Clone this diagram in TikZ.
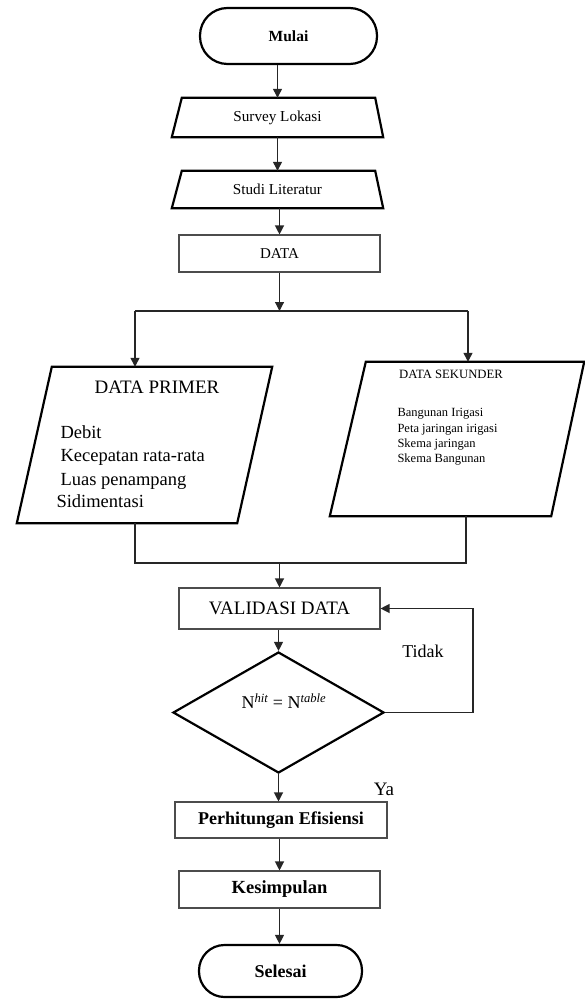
\documentclass[tikz,border=0pt]{standalone}
\usepackage{fontspec}
\setmainfont{Liberation Serif}
\usetikzlibrary{shapes.geometric,arrows.meta}
\newcommand\fsz[1]{\fontsize{#1}{#1}\selectfont}
\begin{document}
\begin{tikzpicture}[x=1pt,y=-1pt,
  thickline/.style={line width=2.2pt, line join=miter},
  conn/.style={line width=1.2pt, draw=black!85},
  arr/.style={conn,-{Triangle[length=9pt,width=9pt]}},
  terminal/.style={draw, line width=2.2pt, rectangle, inner sep=0pt},
  proc/.style={draw=black!70, line width=1.1pt, rectangle, inner sep=0pt},
  box/.style={rectangle, inner sep=0pt}
]
\useasboundingbox (0,0) rectangle (585,1000);

% start
\node[terminal, minimum width=177pt, minimum height=56pt, rounded corners=27.5pt, font=\fsz{15.5}\bfseries] (mulai) at (288.5,36) {Mulai};

% survey
\node[box, minimum width=211pt, minimum height=39pt, font=\fsz{15.2}] (survey) at (277.5,117.5) {Survey Lokasi};
\draw[thickline] ([xshift=10pt]survey.north west) -- ([xshift=-8pt]survey.north east) -- (survey.south east) -- (survey.south west) -- cycle;

% studi
\node[box, minimum width=211pt, minimum height=37pt, font=\fsz{15.2}] (studi) at (277.5,189.5) {Studi Literatur};
\draw[thickline] ([xshift=10pt]studi.north west) -- ([xshift=-8pt]studi.north east) -- (studi.south east) -- (studi.south west) -- cycle;

% data
\node[proc, minimum width=201pt, minimum height=37pt, font=\fsz{15}] (data) at (279.5,253.5) {DATA};

% primer
\node[box, minimum width=255pt, minimum height=156pt] (primer) at (144.5,445) {};
\draw[thickline] ([xshift=35pt]primer.north west) -- (primer.north east) -- ([xshift=-35pt]primer.south east) -- (primer.south west) -- cycle;
\node[font=\fsz{19}, anchor=base] (primtitle) at (157,393) {DATA PRIMER};
\node[font=\fsz{18.5}, anchor=base west] (p1) at (57,438) {Debit};
\node[font=\fsz{18.5}, anchor=base west] (p2) at (57,461) {Kecepatan rata-rata};
\node[font=\fsz{18.5}, anchor=base west] (p3) at (57,485) {Luas penampang};
\node[font=\fsz{18.5}, anchor=base west] (p4) at (53,507) {Sidimentasi};

% sekunder
\node[box, minimum width=254pt, minimum height=154pt] (sekunder) at (457,439) {};
\draw[thickline] ([xshift=36pt]sekunder.north west) -- (sekunder.north east) -- ([xshift=-33pt]sekunder.south east) -- (sekunder.south west) -- cycle;
\node[font=\fsz{12.7}, anchor=base] (sektitle) at (451,378) {DATA SEKUNDER};
\node[font=\fsz{12.5}, anchor=base west] (s1) at (394,416) {Bangunan Irigasi};
\node[font=\fsz{12.5}, anchor=base west] (s2) at (394,432) {Peta jaringan irigasi};
\node[font=\fsz{12.5}, anchor=base west] (s3) at (394,447) {Skema jaringan};
\node[font=\fsz{12.5}, anchor=base west] (s4) at (394,462) {Skema Bangunan};

% validasi
\node[proc, minimum width=201pt, minimum height=41pt, font=\fsz{19}] (validasi) at (279.5,608.5) {VALIDASI DATA};

% decision
\node[draw, diamond, line width=2.2pt, minimum width=211pt, minimum height=121pt, inner sep=0pt] (dec) at (278.5,712.5) {};
\node[font=\fsz{18}] (dectext) at (284,701) {N\textsuperscript{\itshape hit} = N\textsuperscript{\itshape table}};

% process
\node[proc, minimum width=212pt, minimum height=36pt, font=\fsz{18}\bfseries] (perh) at (281,820) {Perhitungan Efisiensi};
\node[proc, minimum width=201pt, minimum height=37pt, font=\fsz{18.5}\bfseries] (kes) at (279.5,889.5) {Kesimpulan};
\node[terminal, minimum width=163pt, minimum height=52pt, rounded corners=25.5pt, font=\fsz{18}\bfseries] (selesai) at (280.5,971) {Selesai};

% labels
\node[font=\fsz{18}] (tidak) at (423,651) {Tidak};
\node[font=\fsz{19}] (ya) at (384,789) {Ya};

% connectors
\coordinate (splitL) at (135,311);
\coordinate (splitR) at (468,311);
\coordinate (mergeL) at (135,563);
\coordinate (mergeR) at (466,563);
\coordinate (loopR) at (473,713);

\draw[arr] (survey.north |- mulai.south) -- (survey.north);
\draw[arr] (survey.south) -- (studi.north);
\draw[arr] (data.north |- studi.south) -- (data.north);
\draw[arr] (data.south) -- (data.south |- splitL);
\draw[conn] (splitL) -- (splitR);
\draw[arr] (splitL) -- (splitL |- primer.north);
\draw[arr] (splitR) -- (splitR |- sekunder.north);
\draw[conn] (primer.south -| mergeL) -- (mergeL) -- (mergeR) -- (sekunder.south -| mergeR);
\draw[arr] (validasi.north |- mergeL) -- (validasi.north);
\draw[arr] (dec.north |- validasi.south) -- (dec.north);
\draw[arr] (dec.east) -- (dec.east -| loopR) -- (loopR |- validasi.east) -- (validasi.east);
\draw[arr] (dec.south) -- (dec.south |- perh.north);
\draw[arr] (kes.north |- perh.south) -- (kes.north);
\draw[arr] (kes.south) -- (kes.south |- selesai.north);
\end{tikzpicture}
\end{document}
